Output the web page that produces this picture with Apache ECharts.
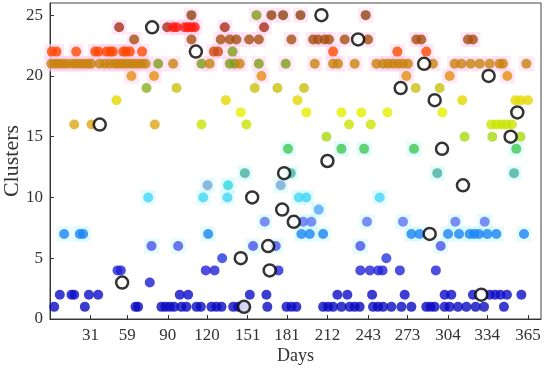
<!DOCTYPE html>
<html>
<head>
<meta charset="utf-8">
<script src="https://cdn.jsdelivr.net/npm/echarts@6/dist/echarts.min.js"></script>
<style>
html,body{margin:0;padding:0;background:#fff;}
#chart{width:550px;height:377px;}
</style>
</head>
<body>
<div id="chart"></div>
<script>
// ---- data ----
const xTicks = [31, 59, 90, 120, 151, 181, 212, 243, 273, 304, 334, 365];
const yTicks = [0, 5, 10, 15, 20, 25];

// days on which each cluster (1..25) has a member point
const days01 = [3.2, 26.6, 65.3, 67.3, 85.1, 88.2, 91.5, 94.8, 100.4, 104.2, 111.9, 115.2, 123.3, 127.1, 131, 139.9, 143.7, 148.2, 166, 180.6, 184.4, 188.2, 208.6, 212.4, 216.2, 222.6, 228.9, 232.7, 236.5, 246.7, 250.5, 254.4, 260.7, 268.4, 276, 287.4, 290.7, 293.8, 301.4, 305.2, 311.6, 318, 325.1, 331.5, 346.7];
const days02 = [7.5, 16.4, 18.5, 29.7, 36.8, 99.1, 105.5, 152.6, 165.3, 219.5, 227.1, 246, 270.9, 301.4, 306.5, 323, 336, 340, 344, 349, 360];
const days03 = [76.2];
const days04 = [51.6, 54.1, 119, 125.7, 174.5, 237, 244.3, 250.7, 254, 267.2, 294.7];
const days05 = [131.5, 256.9];
const days06 = [77.5, 97.9, 155.1, 172.4, 237, 298.4];
const days07 = [10.8, 22.8, 25.3, 120.8, 192, 198.4, 208.6, 276, 282.3, 304, 312.4, 320.5, 324, 327.6, 334, 340.9, 362];
const days08 = [164, 193.3, 199.6, 242.1, 269.6, 309.6, 332];
const days09 = [205.2];
const days10 = [75, 117, 135.5, 190, 195.8, 251.8];
const days11 = [120.3, 136, 176.2];
const days12 = [148.8, 183.9, 295.8, 354.4];
const days13 = [];
const days14 = [181.8, 222.6, 239.9, 278, 356.1];
const days15 = [211.1, 316.7, 337.8, 359.4];
const days16 = [18.5, 31.7, 80, 115.7, 150, 228.4, 245, 337, 340.9, 344.7, 348.5, 352.8];
const days17 = [145.7, 195.8, 222.6, 237.8, 257.7, 299.6];
const days18 = [50.8, 134.3, 189, 314.9, 355.5, 359.5, 365];
const days19 = [73.7, 96.6, 156.4, 173.7, 194, 279.3, 297.6];
const days20 = [62.2, 79.5, 161.5, 272.2, 305.2, 349.3];
const days21 = [1, 4, 7, 10, 13, 17, 20, 23, 26, 29, 31.5, 38, 41.9, 45.7, 49.5, 52, 55, 58, 61, 64, 67, 70, 73, 82.6, 94, 115.7, 122, 137.3, 141.1, 145, 159.5, 180, 202.2, 216.2, 220, 232.7, 249.3, 254.4, 258.2, 262, 265.8, 269.6, 273.4, 292.5, 309, 314.2, 321.3, 328.2, 335.8, 343.4, 345.9, 363.8];
const days22 = [1.4, 5, 20, 34.5, 37, 43.3, 46, 48, 56, 58, 61, 70.3, 125.1, 128.4, 139.4, 216.2, 265.3, 287.4];
const days23 = [64.3, 108, 130.4, 137.3, 142.4, 152.1, 159.5, 184.4, 200.9, 204.7, 209.8, 213.1, 225.1, 242.9, 279.8, 283.6, 319.2, 323];
const days24 = [52.8, 89.5, 94, 96.6, 102.9, 105.5, 108, 110.6, 133.5, 163.5];
const days25 = [108, 157.7, 169.1, 178, 191.3, 241.1];

// cluster centres (black rings): [day, cluster]
const centreDays     = [38, 55.1, 78, 111.4, 145.7, 148.2, 154.4, 166.6, 167.8, 177.3, 178.8, 186.2, 207.3, 211.9, 235.3, 267.8, 285.7, 290, 293.8, 299.4, 315.4, 329.4, 335, 351.8, 356.9];
const centreClusters = [16, 3, 24, 22, 5, 1, 10, 6, 4, 9, 12, 8, 25, 13, 23, 19, 21, 7, 18, 14, 11, 2, 20, 15, 17];

// points whose colour differs from their row colour: [day, cluster, tint]
const tintPoints = [
  [82.6, 21, 'olive'], [115.7, 21, 'olive'], [137.3, 21, 'olive'], [141.1, 21, 'olive'], [159.5, 21, 'olive'], [180, 21, 'olive'],
  [139.4, 22, 'olive'], [125.1, 22, 'rust'], [128.4, 22, 'rust'],
  [157.7, 25, 'olive'], [73.7, 19, 'lime'],
  [52.8, 24, 'darkred'], [89.5, 24, 'darkred'], [133.5, 24, 'darkred'], [163.5, 24, 'darkred'],
  [18.5, 16, 'amber'], [31.7, 16, 'amber'], [80, 16, 'amber'],
  [120.3, 11, 'greyblue'], [176.2, 11, 'greyblue']
];

// ---- styling ----
const rowColors = [
  '#0a0ac0', '#0c0cc8', '#1a1ad2', '#2222d8', '#2236e0', '#4a52ea', '#1a84f2', '#5c72f2', '#52a6f8', '#44d4f4',
  '#30d8e2', '#48b0a0', '#44bc80', '#40c854', '#aad812', '#c8e400', '#e6ee00', '#e4d800', '#c8c010', '#e68e10',
  '#c8820e', '#ff4800', '#a65012', '#ff1a10', '#8c4210'
];
const tintColors = {olive: '#7e9c1a', rust: '#cc4c10', lime: '#8cb020', darkred: '#a8301a', amber: '#dca814', greyblue: '#74a8d4'};

const allDays = [days01, days02, days03, days04, days05, days06, days07, days08, days09, days10,
  days11, days12, days13, days14, days15, days16, days17, days18, days19, days20,
  days21, days22, days23, days24, days25];

function colorFor(day, cl) {
  for (const t of tintPoints) if (t[0] === day && t[1] === cl) return tintColors[t[2]];
  return rowColors[cl - 1];
}

const pts = [], halosPink = [], halosCyan = [];
allDays.forEach((arr, i) => {
  const cl = i + 1;
  arr.forEach(d => {
    pts.push({value: [d, cl], itemStyle: {color: colorFor(d, cl)}});
    if (cl >= 20) halosPink.push([d, cl]);
    else if (cl >= 6 && cl <= 14) halosCyan.push([d, cl]);
  });
});
const centres = centreDays.map((d, i) => [d, centreClusters[i]]);

const FONT = 'Liberation Serif, Times New Roman, serif';
const chart = echarts.init(document.getElementById('chart'), null, {renderer: 'canvas'});
chart.setOption({
  animation: false,
  backgroundColor: '#ffffff',
  grid: {left: 50, right: 9, top: 3, bottom: 58, show: true, borderColor: '#444', borderWidth: 1, outerBoundsMode: 'none', containLabel: false},
  xAxis: {
    type: 'value', min: 0, max: 375,
    name: 'Days', nameLocation: 'middle', nameGap: 28, nameMoveOverlap: false,
    nameTextStyle: {fontFamily: FONT, fontSize: 18, color: '#333'},
    axisLine: {show: true, lineStyle: {color: '#333', width: 1}},
    axisTick: {show: true, inside: true, length: 4, customValues: xTicks, lineStyle: {color: '#333'}},
    axisLabel: {customValues: xTicks, fontFamily: FONT, fontSize: 17, color: '#333', margin: 8},
    splitLine: {show: false}
  },
  yAxis: {
    type: 'value', min: 0, max: 26,
    name: 'Clusters', nameLocation: 'middle', nameGap: 27, nameRotate: 90, nameMoveOverlap: false,
    nameTextStyle: {fontFamily: FONT, fontSize: 22, color: '#333'},
    axisLine: {show: true, lineStyle: {color: '#333', width: 1}},
    axisTick: {show: true, inside: true, length: 4, customValues: yTicks, lineStyle: {color: '#333'}},
    axisLabel: {customValues: yTicks, fontFamily: FONT, fontSize: 17, color: '#333', margin: 7},
    splitLine: {show: false}
  },
  series: [
    {type: 'scatter', data: halosPink, symbol: 'rect', symbolSize: 15, z: 1, silent: true,
     itemStyle: {color: 'rgba(255,205,238,0.55)'}},
    {type: 'scatter', data: halosCyan, symbol: 'rect', symbolSize: 15, z: 1, silent: true,
     itemStyle: {color: 'rgba(200,248,250,0.6)'}},
    {type: 'scatter', data: pts, symbol: 'circle', symbolSize: 10, z: 2},
    {type: 'scatter', data: centres, symbol: 'circle', symbolSize: 12, z: 3,
     itemStyle: {color: '#ffffff', borderColor: '#000000', borderWidth: 2.5}}
  ]
});
</script>
</body>
</html>
